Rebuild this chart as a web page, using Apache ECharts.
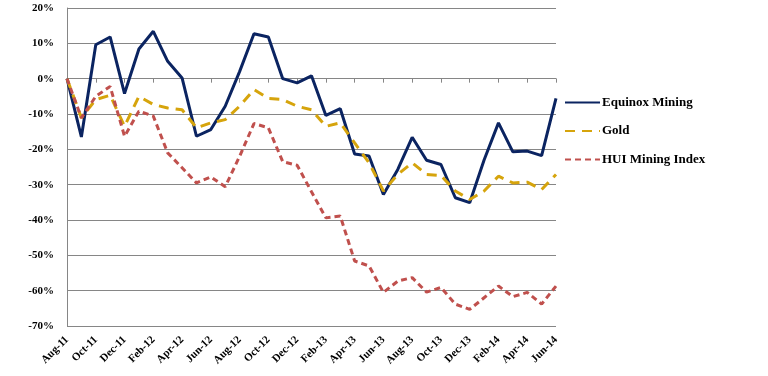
<!DOCTYPE html>
<html>
<head>
<meta charset="utf-8">
<script src="https://cdn.jsdelivr.net/npm/echarts@6/dist/echarts.min.js"></script>
<style>
  html, body { margin: 0; padding: 0; background: #fff; }
  #chart { width: 768px; height: 376px; }
</style>
</head>
<body>
<div id="chart"></div>
<script>
var months = ['Aug-11', 'Sep-11', 'Oct-11', 'Nov-11', 'Dec-11',
  'Jan-12', 'Feb-12', 'Mar-12', 'Apr-12', 'May-12', 'Jun-12', 'Jul-12', 'Aug-12', 'Sep-12', 'Oct-12', 'Nov-12', 'Dec-12',
  'Jan-13', 'Feb-13', 'Mar-13', 'Apr-13', 'May-13', 'Jun-13', 'Jul-13', 'Aug-13', 'Sep-13', 'Oct-13', 'Nov-13', 'Dec-13',
  'Jan-14', 'Feb-14', 'Mar-14', 'Apr-14', 'May-14', 'Jun-14'];

// % change since Aug-11
var equinox = [0, -16.5, 9.6, 11.8, -4.2, 8.4, 13.4, 4.9, 0.2, -16.3, -14.4, -7.8, 2, 12.7, 11.8, 0, -1.2,
  0.8, -10.4, -8.5, -21.3, -21.9, -32.8, -25.7, -16.6, -23.1, -24.3, -33.7, -35.1,
  -23, -12.5, -20.7, -20.5, -21.8, -5.6];
var gold = [0, -11.1, -5.9, -4.7, -13.5, -5, -7.3, -8.3, -8.8, -13.9, -12.5, -11.6, -7.8, -3.1, -5.6, -5.9, -7.8,
  -8.8, -13.5, -12.5, -18.2, -23.8, -31.8, -27.1, -23.8, -27.1, -27.4, -31.8, -34.2,
  -31.8, -27.6, -29.5, -29.3, -31.4, -27.1];
var hui = [0, -11.1, -5, -2.2, -16.3, -9.2, -10.6, -21, -25.2, -29.5, -27.8, -30.6, -22, -12.7, -13.9, -23.5, -24.5,
  -32, -39.4, -38.9, -51.6, -53, -60.5, -57.3, -56.3, -60.4, -59.1, -63.8, -65.3,
  -62, -58.7, -61.7, -60.5, -63.8, -58.7];

var serif = '"Liberation Serif", "DejaVu Serif", serif';

var chart = echarts.init(document.getElementById('chart'));
chart.setOption({
  animation: false,
  legend: {
    orient: 'vertical',
    left: 559,
    top: 91,
    itemWidth: 35,
    itemHeight: 14,
    itemGap: 15.5,
    itemStyle: { opacity: 0 },
    textStyle: { fontFamily: serif, fontWeight: 'bold', fontSize: 13, color: '#000', padding: [0, 0, 0, -3] },
    data: ['Equinox Mining', 'Gold', 'HUI Mining Index']
  },
  grid: { left: 67, right: 212, top: 8, bottom: 50 },
  xAxis: [
    {
      type: 'category',
      data: months,
      boundaryGap: false,
      axisLine: { show: false, onZero: false },
      axisTick: { show: false },
      axisLabel: {
        interval: 1,
        rotate: 45,
        margin: 12,
        fontFamily: serif,
        fontWeight: 'bold',
        fontSize: 11,
        color: '#000'
      }
    },
    {
      type: 'category',
      data: months,
      boundaryGap: false,
      position: 'bottom',
      axisLine: { onZero: true, lineStyle: { color: '#868686', width: 1 } },
      axisTick: { interval: 1, length: 4, lineStyle: { color: '#868686' } },
      axisLabel: { show: false }
    }
  ],
  yAxis: {
    type: 'value',
    min: -70,
    max: 20,
    interval: 10,
    axisLine: { show: true, lineStyle: { color: '#868686' } },
    axisTick: { show: false },
    splitLine: { lineStyle: { color: '#868686', width: 1 } },
    axisLabel: {
      formatter: '{value}%',
      margin: 13,
      fontFamily: serif,
      fontWeight: 'bold',
      fontSize: 11,
      color: '#000'
    }
  },
  series: [
    {
      name: 'Equinox Mining',
      type: 'line',
      data: equinox,
      symbol: 'none',
      color: '#0b2461',
      lineStyle: { width: 3, color: '#0b2461' }
    },
    {
      name: 'Gold',
      type: 'line',
      data: gold,
      symbol: 'none',
      color: '#d6a40c',
      lineStyle: { width: 3, color: '#d6a40c', type: [10, 7] }
    },
    {
      name: 'HUI Mining Index',
      type: 'line',
      data: hui,
      symbol: 'none',
      color: '#c0504d',
      lineStyle: { width: 3, color: '#c0504d', type: [6, 4] }
    }
  ]
});
</script>
</body>
</html>
